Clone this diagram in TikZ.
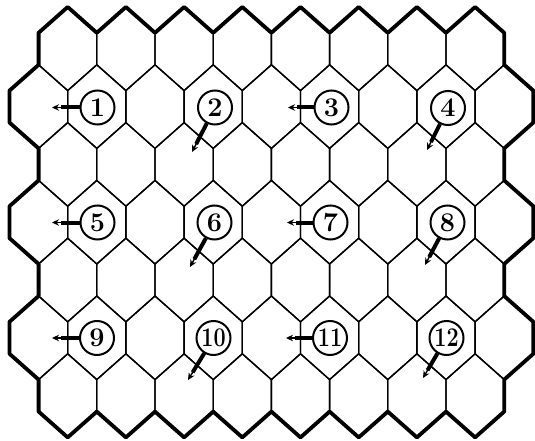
\documentclass[tikz,border=0pt]{standalone}
\usetikzlibrary{arrows.meta}
\begin{document}
\begin{tikzpicture}[x=1pt,y=-1pt,
  cell/.style={line width=1.35pt, line join=round},
  rim/.style={line width=3.8pt, line join=round, line cap=round},
  numc/.style={circle, draw, line width=2pt, fill=white, minimum size=34pt, inner sep=0pt,
    font=\fontsize{27}{27}\selectfont\bfseries},
  shaft/.style={line width=4pt, shorten >=9pt},
  pointer/.style={line width=1.4pt, -{Stealth[length=7pt,width=6.5pt]}}]
\useasboundingbox (0,0) rectangle (535,441);
% honeycomb cells
\foreach \r in {1,3,5,7}{
  \foreach \k in {0,...,7}{
    \pgfmathsetmacro\cx{67.7+58.2*\k}
    \pgfmathsetmacro\cy{48.8+57.8*(\r-1)}
    \draw[cell] (\cx,\cy) +(0,-41.8) -- +(29.1,-16) -- +(29.1,16) -- +(0,41.8) -- +(-29.1,16) -- +(-29.1,-16) -- cycle;
  }}
\foreach \r in {2,4,6}{
  \foreach \k in {0,...,8}{
    \pgfmathsetmacro\cx{38.6+58.2*\k}
    \pgfmathsetmacro\cy{48.8+57.8*(\r-1)}
    \draw[cell] (\cx,\cy) +(0,-41.8) -- +(29.1,-16) -- +(29.1,16) -- +(0,41.8) -- +(-29.1,16) -- +(-29.1,-16) -- cycle;
  }}
% outer rim
\draw[rim] (38.6,32.8) -- (67.7,7) -- (96.8,32.8) -- (125.9,7) -- (155,32.8) -- (184.1,7)
  -- (213.2,32.8) -- (242.3,7) -- (271.4,32.8) -- (300.5,7) -- (329.6,32.8) -- (358.7,7)
  -- (387.8,32.8) -- (416.9,7) -- (446,32.8) -- (475.1,7) -- (504.2,32.8)
  -- (504.2,64.8) -- (533.3,90.6) -- (533.3,122.6) -- (504.2,148.4) -- (504.2,180.4)
  -- (533.3,206.2) -- (533.3,238.2) -- (504.2,264.0) -- (504.2,296.0) -- (533.3,321.8)
  -- (533.3,353.8) -- (504.2,379.6) -- (504.2,411.6)
  -- (475.1,437.4) -- (446,411.6) -- (416.9,437.4) -- (387.8,411.6) -- (358.7,437.4)
  -- (329.6,411.6) -- (300.5,437.4) -- (271.4,411.6) -- (242.3,437.4) -- (213.2,411.6)
  -- (184.1,437.4) -- (155,411.6) -- (125.9,437.4) -- (96.8,411.6) -- (67.7,437.4) -- (38.6,411.6)
  -- (38.6,379.6) -- (9.5,353.8) -- (9.5,321.8) -- (38.6,296) -- (38.6,264) -- (9.5,238.2)
  -- (9.5,206.2) -- (38.6,180.4) -- (38.6,148.4) -- (9.5,122.6) -- (9.5,90.6) -- (38.6,64.8) -- cycle;
% numbered markers
\node[numc] (n1) at (97.5,107.5) {1};
\node[numc] (n2) at (215,107.5) {2};
\node[numc] (n3) at (331.5,107.5) {3};
\node[numc] (n4) at (448,108) {4};
\node[numc] (n5) at (97.5,222.5) {5};
\node[numc] (n6) at (214.5,222.5) {6};
\node[numc] (n7) at (330.5,222.5) {7};
\node[numc] (n8) at (447.5,222.5) {8};
\node[numc] (n9) at (97,338) {9};
\node[numc] (n10) at (213.5,338) {\scalebox{0.8}[1]{10}};
\node[numc] (n11) at (330,338) {\scalebox{0.8}[1]{11}};
\node[numc] (n12) at (446.5,338) {\scalebox{0.8}[1]{12}};
% arrow tips
\coordinate (t1) at (52,107.5);
\coordinate (t2) at (192,152);
\coordinate (t3) at (288,107.5);
\coordinate (t4) at (427,150);
\coordinate (t5) at (52,222.5);
\coordinate (t6) at (190,267);
\coordinate (t7) at (287,222.5);
\coordinate (t8) at (425,265);
\coordinate (t9) at (52,338);
\coordinate (t10) at (188,380);
\coordinate (t11) at (286,338);
\coordinate (t12) at (423,378);
\foreach \i in {1,...,12}{
  \draw[shaft] (n\i) -- (t\i);
  \draw[pointer] (n\i) -- (t\i);
}
\end{tikzpicture}
\end{document}
